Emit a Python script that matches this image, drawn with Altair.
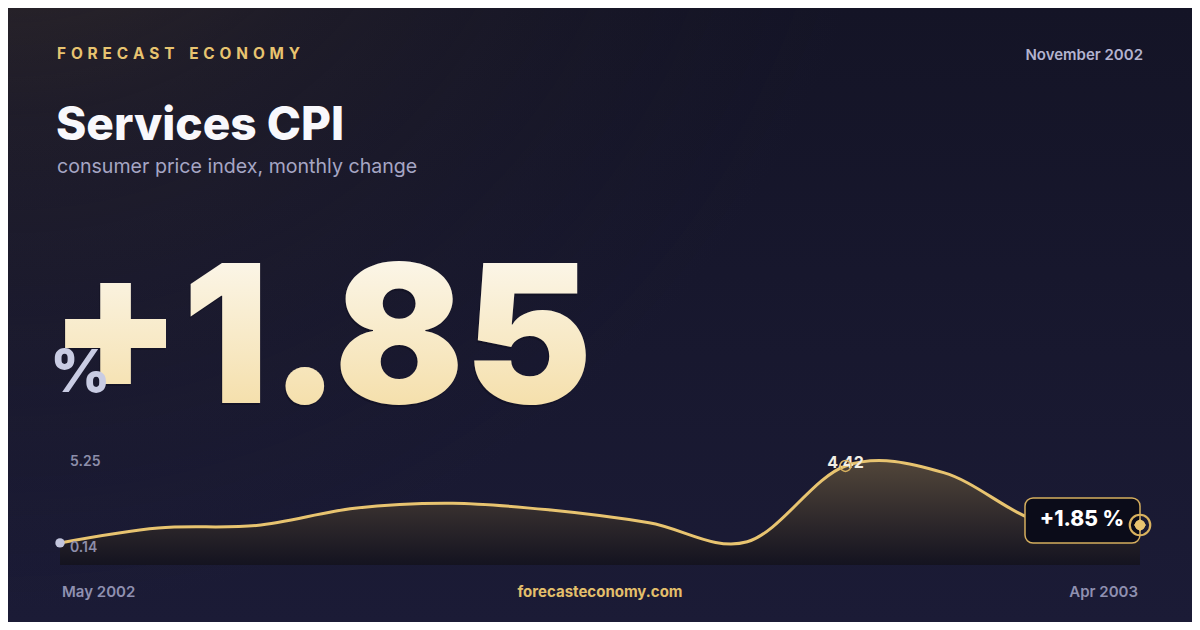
import altair as alt
import pandas as pd

# ---------------- data ----------------
months = ["May 2002", "Jun 2002", "Jul 2002", "Aug 2002", "Sep 2002", "Oct 2002",
          "Nov 2002", "Dec 2002", "Jan 2003", "Feb 2003", "Mar 2003", "Apr 2003"]
values = [1.07, 1.72, 1.83, 2.58, 2.80, 2.50, 1.95, 1.12, 4.42, 4.13, 1.96, 1.85]
range_labels = ["5.25", "0.14"]
y_domain = [0.14, 5.25]
brand = "FORECAST ECONOMY"
site = "forecasteconomy.com"
title = "Services CPI"
subtitle = "consumer price index, monthly change"
period = "November 2002"

df = pd.DataFrame({"i": list(range(len(values))), "month": months, "v": values})
peak_df = df.loc[[df["v"].idxmax()]].assign(label=lambda d: d["v"].map(lambda x: f"{x:.2f}"))
first_df = df.iloc[[0]]
last_df = df.iloc[[-1]].assign(label=lambda d: d["v"].map(lambda x: f"{x:+.2f} %"))
big_value = f"{values[-1]:+.2f}"

one = pd.DataFrame({"a": [0]})

W, H = 1184, 614
GOLD = "#e8c470"

X = alt.X("i:Q", scale=alt.Scale(domain=[0, len(values) - 1], range=[52, 1132]), axis=None)
Y = alt.Y("v:Q", scale=alt.Scale(domain=y_domain, range=[556.3, 438.9], zero=False, nice=False), axis=None)


def txt(s, x, y, size, color, weight=400, align="left", baseline="alphabetic", font="Inter", **kw):
    return alt.Chart(one).mark_text(
        text=s, fontSize=size, color=color, fontWeight=weight, align=align,
        baseline=baseline, font=font, **kw
    ).encode(x=alt.value(x), y=alt.value(y))


# ---------------- background ----------------
bg_lin = alt.Chart(one).mark_rect(
    fill=alt.LinearGradient(gradient="linear", x1=0, y1=0, x2=0, y2=1, stops=[
        alt.GradientStop(color="#141426", offset=0),
        alt.GradientStop(color="#1b1b36", offset=1),
    ])
).encode(x=alt.value(0), x2=alt.value(W), y=alt.value(0), y2=alt.value(H))

bg_rad = alt.Chart(one).mark_rect(
    fill=alt.RadialGradient(gradient="radial", x1=0, y1=0, r1=0, x2=0, y2=0, r2=0.75, stops=[
        alt.GradientStop(color="rgba(80,64,46,0.75)", offset=0),
        alt.GradientStop(color="rgba(60,50,45,0.25)", offset=0.45),
        alt.GradientStop(color="rgba(30,28,40,0)", offset=1),
    ])
).encode(x=alt.value(0), x2=alt.value(W), y=alt.value(0), y2=alt.value(H))

# ---------------- header texts ----------------
NB = "\u00a0"
brand_spaced = (NB * 4).join((NB + "\u200a").join(w) for w in brand.split(" "))
brand_t = txt(brand_spaced, 49, 51, 15.4, GOLD, weight=700)
period_t = txt(period, 1135, 52, 15, "#b3b3cf", weight=600, align="right")
title_t = txt(title, 48, 132, 46, "#f8f8fc", weight=800)
sub_t = txt(subtitle, 49, 165, 19.6, "#a6a6c4", weight=400)

# ---------------- big number ----------------
big_shadow = txt(big_value, 40, 397, 192, "rgba(5,5,15,0.25)", weight=900)
big = alt.Chart(one).mark_text(
    text=big_value, fontSize=192, fontWeight=900, font="Inter", align="left", baseline="alphabetic",
    fill=alt.LinearGradient(gradient="linear", x1=0, y1=0, x2=0, y2=1, stops=[
        alt.GradientStop(color="#fdfcf9", offset=0),
        alt.GradientStop(color="#f3d99a", offset=1),
    ])
).encode(x=alt.value(41), y=alt.value(395))
pct = txt("%", 42, 384, 59, "#c9cce3", weight=800)

# ---------------- sparkline ----------------
area = alt.Chart(df).mark_area(
    interpolate="cardinal",
    fill=alt.LinearGradient(gradient="linear", x1=0, y1=0, x2=0, y2=1, stops=[
        alt.GradientStop(color="#52463a", offset=0),
        alt.GradientStop(color="#141320", offset=1),
    ])
).encode(x=X, y=Y, y2=alt.datum(0.11))

line = alt.Chart(df).mark_line(interpolate="cardinal", color=GOLD, strokeWidth=3).encode(x=X, y=Y)

hi_t = txt(range_labels[0], 62, 454, 14, "#8d8eaa", weight=600, baseline="middle")
lo_t = txt(range_labels[1], 62, 540, 14, "#8d8eaa", weight=600, baseline="middle")

start_pt = alt.Chart(first_df).mark_circle(size=88, color="#c3c6dd", opacity=1).encode(x=X, y=Y)

peak_label = alt.Chart(peak_df).mark_text(
    fontSize=16, fontWeight=700, font="Inter", color="#f2eee4", baseline="alphabetic", dy=2
).encode(x=X, y=Y, text="label:N")
peak_ring = alt.Chart(peak_df).mark_point(
    size=120, filled=False, stroke="#d9b25f", strokeWidth=1.5, opacity=1
).encode(x=X, y=Y)

box = alt.Chart(one).mark_rect(
    fill="#0b0c19", stroke="#d5ae5e", strokeWidth=1.5, cornerRadius=8
).encode(x=alt.value(1017), x2=alt.value(1132), y=alt.value(490), y2=alt.value(535))

box_t = alt.Chart(last_df).mark_text(
    fontSize=21, fontWeight=800, font="Inter", color="#ffffff", align="center",
    baseline="alphabetic", dx=-58, dy=1
).encode(x=X, y=Y, text="label:N")

end_ring = alt.Chart(last_df).mark_point(
    size=420, filled=False, stroke="#d9b25f", strokeWidth=2.2, opacity=1
).encode(x=X, y=Y)
end_dot = alt.Chart(last_df).mark_point(
    shape="diamond", size=150, filled=True, color=GOLD, opacity=1
).encode(x=X, y=Y)
end_dot2 = alt.Chart(last_df).mark_circle(size=110, color=GOLD, opacity=1).encode(x=X, y=Y)

# ---------------- footer ----------------
foot_l = txt(months[0], 54, 584, 15, "#8f90b0", weight=600, baseline="middle")
foot_r = txt(months[-1], 1130, 584, 15, "#8f90b0", weight=600, align="right", baseline="middle")
foot_c = txt(site, 592, 584, 15, "#e3bf6b", weight=700, align="center", baseline="middle")

chart = alt.layer(
    bg_lin, bg_rad,
    brand_t, period_t, title_t, sub_t,
    big_shadow, big, pct,
    area, line, hi_t, lo_t, start_pt,
    peak_label, peak_ring,
    box, box_t, end_ring, end_dot, end_dot2,
    foot_l, foot_r, foot_c,
).properties(
    width=W, height=H, padding=0, autosize=alt.AutoSizeParams(type="none")
).configure_view(stroke=None).configure(background="#17172c")

chart.save("out.html", embed_options={"renderer": "svg", "actions": False})
